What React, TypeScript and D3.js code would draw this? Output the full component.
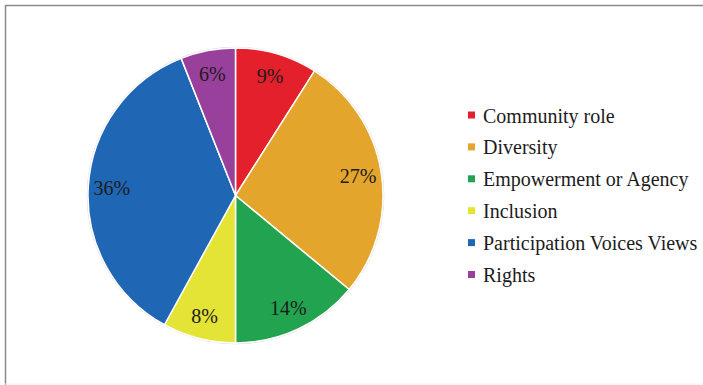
import React from "react";
import * as d3 from "d3";

const categories = [
  "Community role",
  "Diversity",
  "Empowerment or Agency",
  "Inclusion",
  "Participation Voices Views",
  "Rights",
];
const values = [9, 27, 14, 8, 36, 6];
const labels = ["9%", "27%", "14%", "8%", "36%", "6%"];
const colors = ["#E3202B", "#E3A52C", "#21A34F", "#E4E436", "#1F66B4", "#993F9C"];

const FONT = '"Liberation Serif"';

export default function App() {
  const W = 703;
  const H = 385;
  const cx = 235.5;
  const cy = 195.5;
  const r = 147.5;
  const data = categories.map((c, i) => ({ c, v: values[i], label: labels[i], color: colors[i] }));
  const pie = d3.pie<any>().value((d) => d.v).sort(null);
  const arcs = pie(data);
  const arc = d3.arc<any>().innerRadius(0).outerRadius(r);
  const labelArc = d3.arc<any>().innerRadius(124).outerRadius(124);
  const legendY = d3.scaleLinear().domain([0, categories.length - 1]).range([115.5, 275]);

  return (
    <svg width={W} height={H} style={{ position: "absolute", left: 0, top: 0, background: "#fff" }}>
      <line x1={5} y1={5.5} x2={W} y2={5.5} stroke="#8a8a8a" strokeWidth={1.5} />
      <line x1={5.5} y1={5} x2={5.5} y2={H} stroke="#8a8a8a" strokeWidth={1.5} />
      <line x1={5} y1={384} x2={W} y2={384} stroke="#eeeeee" strokeWidth={1} />
      <g transform={`translate(${cx},${cy})`}>
        <circle r={r + 0.8} fill="none" stroke="#dcdcdc" strokeWidth={1} />
        {arcs.map((a, i) => (
          <path key={i} d={arc(a) as string} fill={a.data.color} stroke="#ffffff" strokeWidth={1.5} />
        ))}
        {arcs.map((a, i) => {
          const [x, y] = labelArc.centroid(a);
          return (
            <text
              key={"l" + i}
              x={x}
              y={y + 7}
              textAnchor="middle"
              fill="#1c1c1c"
              style={{ fontFamily: FONT, fontSize: 20 }}
            >
              {a.data.label}
            </text>
          );
        })}
      </g>
      <g>
        {data.map((d, i) => (
          <g key={"g" + i} transform={`translate(0,${legendY(i)})`}>
            <rect x={468} y={-4} width={7} height={7} fill={d.color} />
            <text x={483} y={7} fill="#1c1c1c" style={{ fontFamily: FONT, fontSize: 20 }}>
              {d.c}
            </text>
          </g>
        ))}
      </g>
    </svg>
  );
}
